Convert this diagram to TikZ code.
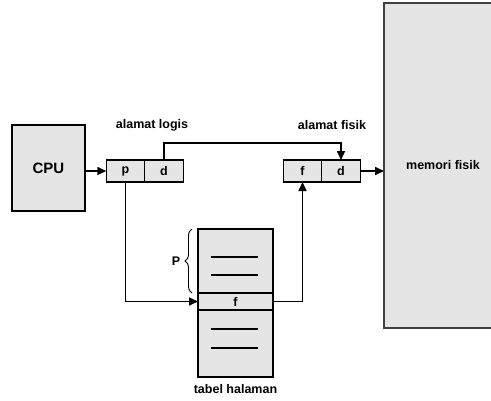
\documentclass[tikz,border=0pt]{standalone}
\usepackage{fontspec}
\setmainfont{Liberation Sans}
\usetikzlibrary{positioning,arrows.meta,decorations.pathreplacing}

\tikzset{
  box/.style={draw, fill=gray!20, line width=1.2pt, inner sep=0pt, outer sep=0pt, font=\fontsize{12.5}{15}\selectfont\bfseries},
  cell/.style={box, minimum width=38.5pt, minimum height=22pt},
  lbl/.style={font=\fontsize{12.5}{15}\selectfont\bfseries},
  link/.style={line width=1.6pt, -{Triangle[length=9pt,width=8pt]}},
}

\begin{document}
\begin{tikzpicture}[x=1pt,y=-1pt]
  \useasboundingbox (0,0) rectangle (491,400);

  % cpu and memory
  \node[box, minimum width=73pt, minimum height=86pt, font=\fontsize{15}{17}\selectfont\bfseries] (cpu) at (48.5,168) {CPU};
  \node[box, draw=gray!50!black, line width=1.6pt, minimum width=118pt, minimum height=325pt] (mem) at (443,165.5) {memori fisik};

  % logical address
  \node[cell] (lp) at (125.5,171) {p};
  \node[cell, right=0pt of lp] (ld) {d};
  \node[lbl] at (152,125) {alamat logis};

  % physical address
  \node[cell] (pf) at (302.5,171) {f};
  \node[cell, right=0pt of pf] (pd) {d};
  \node[lbl] at (332,125) {alamat fisik};

  % page table
  \node[box, minimum width=75pt, minimum height=64pt] (ptop) at (235.5,261) {};
  \node[box, minimum width=75pt, minimum height=17pt, below=0pt of ptop] (pt) {f};
  \node[box, minimum width=75pt, minimum height=67pt, below=0pt of pt] (pbot) {};
  \node[lbl, below=4pt of pbot] {tabel halaman};
  \foreach \y in {257,275,329,348}
    \draw[line width=1.5pt] (211,\y) -- (258,\y);
  \draw[line width=0.9pt, decorate, decoration={brace, amplitude=7pt}]
    (192,293) -- (192,229) node[midway, left=8pt, lbl] {P};

  % connectors
  \coordinate (over) at (0,143);
  \draw[link] (cpu.east |- lp) -- (lp.west);
  \draw[link] (ld.north) -- (ld.north |- over) -| (pd.north);
  \draw[link] (lp.south) |- (pt.west);
  \draw[link] (pt.east) -| (pf.south);
  \draw[link] (pd.east) -- (pd.east -| mem.west);
\end{tikzpicture}
\end{document}
